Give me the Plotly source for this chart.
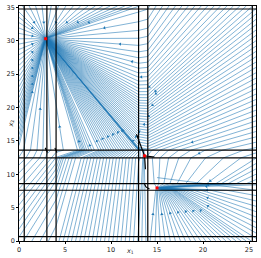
import math
import plotly.graph_objects as go

# ---------------- data ----------------
X_MAX, Y_MAX = 25.76, 35.2

x_ticks = [0, 5, 10, 15, 20, 25]
y_ticks = [0, 5, 10, 15, 20, 25, 30, 35]

# black threshold lines
threshold_x = [0.57, 3.03, 4.03, 13.0, 14.0, 25.36]
threshold_y = [0.65, 7.6, 8.6, 12.45, 13.6, 34.75]

# partition of the phase plane used by the flow
cut_x = [3.03, 4.03, 13.0, 14.0]
cut_y = [7.6, 8.6, 12.45, 13.6]

# focal point of every box (rows: y bands bottom->top, cols: x bands left->right)
focal_x = [
    [15.0, 15.0, 15.0, 13.6, 15.0],
    [15.0, 15.0, 15.0, 13.6, 15.0],
    [15.0, 15.0, 15.0, 13.6, 15.0],
    [6.0, 10.0, 16.0, 13.2, 10.0],
    [2.9, 2.9, 2.9, -15.0, 2.0],
]
focal_y = [
    [32.0, 32.0, 55.0, 14.0, 9.5],
    [32.0, 32.0, 55.0, 14.0, 7.95],
    [32.0, 32.0, 55.0, 14.0, 3.0],
    [25.0, 22.0, 18.0, 30.0, 6.0],
    [30.3, 30.3, 30.3, 22.0, 7.0],
]

# equilibria (red points)
eq_x = [2.9, 13.65, 15.0]
eq_y = [30.3, 12.75, 7.95]

# separatrix pieces (black curves)
sep_curves = [
    ([12.77, 13.15, 13.42, 13.65], [16.0, 14.5, 13.47, 12.75]),
    ([13.65, 14.2, 14.72], [12.75, 12.65, 12.58]),
    ([13.65, 13.7, 13.74], [12.75, 11.8, 10.75]),
    ([13.64, 13.8, 14.18], [8.52, 8.1, 7.78]),
    ([2.85, 3.0, 3.1], [13.95, 13.6, 13.25]),
    ([3.9, 4.03, 4.12], [13.95, 13.6, 13.25]),
]

# streamline seeds on the borders
top_seed_x = [0.4, 1.1, 1.8, 2.5, 3.5, 4.3, 5.1, 5.9, 6.7, 7.5, 8.3, 9.1, 9.9,
              10.7, 11.5, 12.3, 13.1, 14.2, 14.9, 15.6, 16.3, 17.0, 17.7, 18.4,
              19.1, 19.8, 20.5, 21.2, 21.9, 22.6, 23.3, 24.0, 24.7, 25.4]
left_seed_y = [0.6, 1.8, 3.0, 4.2, 5.4, 6.6, 7.8, 9.0, 10.2, 11.4, 12.6,
               14.3, 15.1, 15.9, 16.7, 17.5, 18.3, 19.1, 19.9, 20.7, 21.5, 22.3,
               23.1, 23.9, 24.7, 25.5, 26.3, 27.1, 27.9, 28.7, 29.5, 30.3, 31.1,
               31.9, 32.7, 33.5, 34.3]
right_seed_y = [0.4, 1.2, 2.0, 2.8, 3.6, 4.4, 5.2, 6.0, 6.8, 7.6, 8.4, 9.2, 10.0,
                10.8, 11.6, 12.4, 13.2, 14.0, 14.8, 15.6, 16.4, 17.2, 18.0, 18.8,
                19.6, 20.4, 21.2, 22.0, 22.8, 23.6, 24.4, 25.2, 26.0, 26.8, 27.6,
                28.4, 29.2, 30.0, 30.8, 31.6, 32.4, 33.2, 34.0, 34.8]
bottom_seed_x = [0.5, 1.4, 2.3, 3.2, 4.35, 4.8, 5.25,
                 5.7, 6.15, 6.6, 7.05, 7.5, 7.95, 8.4, 8.85, 9.3, 9.75, 10.2, 10.65,
                 11.1, 11.55, 12.0, 12.45, 12.9, 13.35, 13.8, 14.25, 14.8, 15.35,
                 15.9, 16.45, 17.0, 17.55, 18.1, 18.65, 19.2, 19.75, 20.3, 20.85,
                 21.4, 21.95, 22.5, 23.05, 23.6, 24.15, 24.7, 25.25]

BLUE = "#1f77b4"

# ---------------- flow tracing (straight rays towards each box's focal point) ----------------
def locate(v, cuts):
    return sum(1 for c in cuts if v > c)


def trace(x, y):
    xs, ys = [x], [y]
    tiny = 0
    for _ in range(60):
        r, c = locate(y, cut_y), locate(x, cut_x)
        fx, fy = focal_x[r][c], focal_y[r][c]
        dx, dy = fx - x, fy - y
        L = math.hypot(dx, dy)
        if L < 1e-6:
            break
        lo_x = cut_x[c - 1] if c > 0 else 0.0
        hi_x = cut_x[c] if c < len(cut_x) else X_MAX
        lo_y = cut_y[r - 1] if r > 0 else 0.0
        hi_y = cut_y[r] if r < len(cut_y) else Y_MAX
        t_best = 1.0
        for b, d, p in ((lo_x, dx, x), (hi_x, dx, x), (lo_y, dy, y), (hi_y, dy, y)):
            if d != 0:
                t = (b - p) / d
                if 1e-9 < t < t_best:
                    t_best = t
        nx = x + dx * t_best + dx / L * 1e-6
        ny = y + dy * t_best + dy / L * 1e-6
        seg = math.hypot(nx - x, ny - y)
        xs.append(nx)
        ys.append(ny)
        if t_best >= 1.0:
            break
        if nx <= 0 or nx >= X_MAX or ny <= 0 or ny >= Y_MAX:
            break
        if seg < 1e-4:
            tiny += 1
            if tiny > 3:
                break
        x, y = nx, ny
    return xs, ys


seeds = ([(sx, Y_MAX) for sx in top_seed_x] + [(0.0, sy) for sy in left_seed_y] +
         [(X_MAX, sy) for sy in right_seed_y] + [(sx, 0.0) for sx in bottom_seed_x])

SX = (257 - 19) / X_MAX
SY = (241 - 4) / Y_MAX

line_x, line_y = [], []
arr_x, arr_y, arr_a = [], [], []
for k, (sx, sy) in enumerate(seeds):
    xs, ys = trace(sx, sy)
    line_x += xs + [None]
    line_y += ys + [None]
    if k % 3:
        continue
    # arrow at the middle of the streamline (pixel length)
    lens = [math.hypot((xs[i + 1] - xs[i]) * SX, (ys[i + 1] - ys[i]) * SY) for i in range(len(xs) - 1)]
    total = sum(lens)
    if total < 8:
        continue
    half, acc = total / 2, 0.0
    for i, l in enumerate(lens):
        if acc + l >= half and l > 0:
            f = (half - acc) / l
            arr_x.append(xs[i] + f * (xs[i + 1] - xs[i]))
            arr_y.append(ys[i] + f * (ys[i + 1] - ys[i]))
            arr_a.append(math.degrees(math.atan2((xs[i + 1] - xs[i]) * SX, (ys[i + 1] - ys[i]) * SY)))
            break
        acc += l

fig = go.Figure()
fig.add_trace(go.Scatter(x=line_x, y=line_y, mode="lines",
                         line=dict(color="rgba(31,119,180,0.7)", width=0.8),
                         hoverinfo="skip", showlegend=False))
fig.add_trace(go.Scatter(x=arr_x, y=arr_y, mode="markers",
                         marker=dict(symbol="triangle-up", size=3, color=BLUE, angle=arr_a,
                                     line=dict(width=0)),
                         hoverinfo="skip", showlegend=False))

for tx in threshold_x:
    fig.add_trace(go.Scatter(x=[tx, tx], y=[0, Y_MAX], mode="lines",
                             line=dict(color="black", width=1.2), showlegend=False, hoverinfo="skip"))
for ty in threshold_y:
    fig.add_trace(go.Scatter(x=[0, X_MAX], y=[ty, ty], mode="lines",
                             line=dict(color="black", width=1.2), showlegend=False, hoverinfo="skip"))
for cx, cy in sep_curves:
    fig.add_trace(go.Scatter(x=cx, y=cy, mode="lines", line=dict(color="black", width=1.2),
                             showlegend=False, hoverinfo="skip"))

fig.add_trace(go.Scatter(x=eq_x, y=eq_y, mode="markers",
                         marker=dict(symbol="square", size=3, color="red", line=dict(width=0)),
                         showlegend=False, hoverinfo="skip"))

axis_common = dict(showgrid=False, zeroline=False, showline=True, mirror=True,
                   linecolor="black", linewidth=0.8, ticks="outside", ticklen=2,
                   tickwidth=0.6, tickcolor="black",
                   tickfont=dict(family="DejaVu Sans", size=6.5, color="#222"))
fig.update_layout(
    width=261, height=258,
    margin=dict(l=19, r=4, t=4, b=17),
    paper_bgcolor="white", plot_bgcolor="white",
    xaxis=dict(range=[0, X_MAX], tickvals=x_ticks, **axis_common),
    yaxis=dict(range=[0, Y_MAX], tickvals=y_ticks, **axis_common),
    annotations=[
        dict(text="<i>x</i><sub>1</sub>", xref="paper", yref="paper", x=0.47, y=0,
             yshift=-16, showarrow=False, font=dict(family="DejaVu Sans", size=6.5, color="#222")),
        dict(text="<i>x</i><sub>2</sub>", xref="paper", yref="paper", x=0, y=0.5,
             xshift=-15, textangle=-90, showarrow=False,
             font=dict(family="DejaVu Sans", size=6.5, color="#222")),
    ],
)
fig.write_html("out.html", config={"displayModeBar": False},
               post_script="document.body.style.margin='0';document.body.style.overflow='hidden';")
